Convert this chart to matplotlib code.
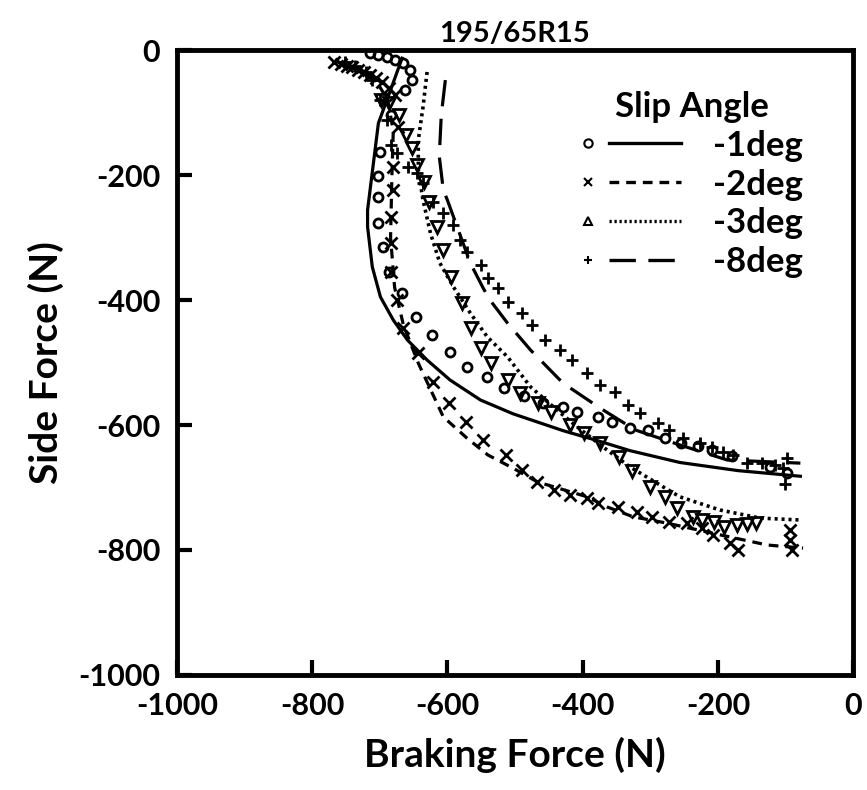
import numpy as np
import matplotlib
matplotlib.use("Agg")
import matplotlib.pyplot as plt
from matplotlib.lines import Line2D
from matplotlib.legend_handler import HandlerBase

plt.rcParams['font.family'] = ['Lato', 'DejaVu Sans']
plt.rcParams['font.weight'] = 'bold'
plt.rcParams['axes.unicode_minus'] = False
plt.rcParams['lines.scale_dashes'] = False

m1_x = [-714, -702, -689, -677, -665, -655, -652, -662, -684, -699, -702, -702, -702,
        -695, -687, -667, -647, -622, -596, -571, -541, -516, -486, -458, -429, -408,
        -378, -356, -330, -303, -278, -254, -229, -208, -179, -123, -98]
m1_y = [-5, -8, -11, -16, -21, -32, -48, -64, -104, -163, -202, -235, -277,
        -315, -355, -389, -427, -456, -483, -507, -523, -541, -554, -565, -571, -579,
        -587, -595, -605, -608, -621, -629, -634, -640, -650, -667, -677]

m2_x = [-767, -758, -749, -741, -732, -723, -714, -705, -696, -687, -678, -673, -681,
        -681, -684, -684, -684, -674, -665, -643, -621, -597, -572, -548, -514, -489,
        -467, -443, -418, -393, -377, -347, -319, -297, -273, -245, -223, -207, -182,
        -170, -93, -93, -90]
m2_y = [-19, -22, -26, -27, -32, -35, -40, -45, -51, -61, -72, -123, -187,
        -224, -267, -309, -355, -400, -445, -485, -531, -565, -595, -624, -648, -672,
        -691, -704, -712, -717, -725, -731, -739, -747, -755, -757, -765, -776, -789,
        -800, -768, -784, -800]

m3_x = [-698, -686, -671, -661, -653, -645, -634, -627, -616, -606, -594, -579, -565,
        -550, -535, -510, -492, -466, -447, -419, -398, -375, -346, -327, -300, -278,
        -260, -237, -223, -205, -191, -172, -157, -143]
m3_y = [-80, -85, -104, -136, -157, -184, -211, -243, -283, -320, -363, -405, -445,
        -477, -501, -528, -549, -565, -579, -600, -613, -629, -651, -674, -699, -715,
        -733, -747, -752, -755, -763, -760, -759, -757]

m8_x = [-751, -736, -721, -711, -699, -690, -684, -674, -658, -645, -636, -621, -606,
        -591, -581, -571, -551, -540, -525, -510, -489, -475, -455, -433, -415, -393,
        -374, -352, -333, -315, -288, -273, -251, -226, -208, -192, -177, -157, -135,
        -115, -103, -98, -101]
m8_y = [-19, -26, -35, -48, -80, -112, -152, -165, -187, -197, -213, -243, -261,
        -280, -304, -323, -344, -365, -381, -403, -421, -440, -464, -480, -496, -517,
        -536, -547, -568, -581, -597, -608, -621, -629, -635, -643, -648, -661, -661,
        -664, -669, -653, -694]

# fitted curves
c1_x = [-667, -684, -702, -718, -718, -711, -699, -680, -659, -630, -596, -551, -503,
        -429, -378, -330, -256, -170, -78]
c1_y = [-13, -64, -117, -256, -283, -347, -395, -432, -464, -496, -528, -560, -582,
        -609, -625, -641, -660, -673, -682]

c2_x = [-765, -735, -705, -688, -680, -682, -684, -678, -665, -643, -606, -571, -540,
        -503, -467, -393, -364, -325, -275, -200, -127, -74]
c2_y = [-18, -30, -50, -80, -130, -200, -300, -380, -440, -501, -587, -621, -648,
        -669, -691, -715, -731, -747, -757, -775, -792, -797]

c3_x = [-630, -636, -643, -643, -636, -625, -611, -591, -566, -541, -511, -477, -438,
        -408, -370, -330, -281, -256, -197, -137, -78]
c3_y = [-35, -91, -144, -192, -240, -293, -341, -379, -421, -459, -491, -539, -576,
        -603, -635, -667, -699, -715, -736, -749, -752]

c8_x = [-603, -609, -612, -606, -600, -566, -547, -537, -511, -477, -429, -374, -322,
        -256, -186, -78]
c8_y = [-48, -104, -170, -224, -240, -341, -381, -400, -437, -480, -533, -573, -608,
        -632, -656, -661]

labels = ['-1deg', '-2deg', '-3deg', '-8deg']


class HandlerMarkLine(HandlerBase):
    # small marker on the left, line sample on the right
    def create_artists(self, legend, h, xd, yd, w, ht, fs, trans):
        y = ht / 2 - yd
        x0 = -xd
        mk = Line2D([x0 + 0.07 * w], [y], marker=h.get_marker(), ms=6,
                    mfc='none', mec='k', mew=1.5, ls='none', transform=trans)
        ln = Line2D([x0 + 0.28 * w, x0 + w], [y, y], color='k', lw=2.4,
                    transform=trans)
        ln.set_linestyle(h.get_linestyle())
        if h.get_linestyle() == '--':
            ln.set_dashes(h._dash_spec)
        return [mk, ln]


fig = plt.figure(figsize=(8.67, 7.9), dpi=100)
ax = fig.add_axes([0.204, 0.1456, 0.78, 0.791])

mk_kw = dict(ls='none', mfc='none', mec='k', mew=2)
ax.plot(m1_x, m1_y, marker='o', ms=6.5, **mk_kw)
ax.plot(m2_x, m2_y, marker='x', ms=8.5, **mk_kw)
ax.plot(m3_x, m3_y, marker='v', ms=8, **mk_kw)
ax.plot(m8_x, m8_y, marker='+', ms=9, **mk_kw)

ax.plot(c1_x, c1_y, color='k', lw=2.3, ls='-')
ax.plot(c2_x, c2_y, color='k', lw=2.3, dashes=(7, 5))
ax.plot(c3_x, c3_y, color='k', lw=2.6, dashes=(2.2, 2.8))
ax.plot(c8_x, c8_y, color='k', lw=2.3, dashes=(19, 9))

# legend proxies
handles = []
specs = [('o', '-', None), ('x', '--', (7, 5)), ('^', '--', (1.6, 2.0)), ('+', '--', (19, 9))]
for mk, ls, dsh in specs:
    h = Line2D([], [], marker=mk, ls=ls, color='k')
    h._dash_spec = dsh
    handles.append(h)
leg = ax.legend(handles, labels, title='Slip Angle', loc='upper right',
                bbox_to_anchor=(0.962, 0.974), frameon=False,
                prop={'size': 25, 'weight': 'bold'},
                title_fontproperties={'size': 25, 'weight': 'bold'},
                handlelength=2.9, handletextpad=0.92, labelspacing=0.2,
                borderpad=0.7, borderaxespad=0.0,
                handler_map={h: HandlerMarkLine() for h in handles})

ax.set_xlim(-1000, 0)
ax.set_ylim(-1000, 0)
ax.set_xticks(np.arange(-1000, 1, 200))
ax.set_yticks(np.arange(-1000, 1, 200))
ax.tick_params(direction='in', length=11, width=3, labelsize=22, pad=12)
for lab in ax.get_xticklabels() + ax.get_yticklabels():
    lab.set_fontweight('bold')
for s in ax.spines.values():
    s.set_linewidth(3.5)

ax.set_title('195/65R15', fontsize=21, fontweight='bold', pad=6)
ax.set_xlabel('Braking Force (N)', fontsize=28, fontweight='bold', labelpad=12)
ax.set_ylabel('Side Force (N)', fontsize=28, fontweight='bold', labelpad=10)

fig.savefig('out.png', dpi=100)
